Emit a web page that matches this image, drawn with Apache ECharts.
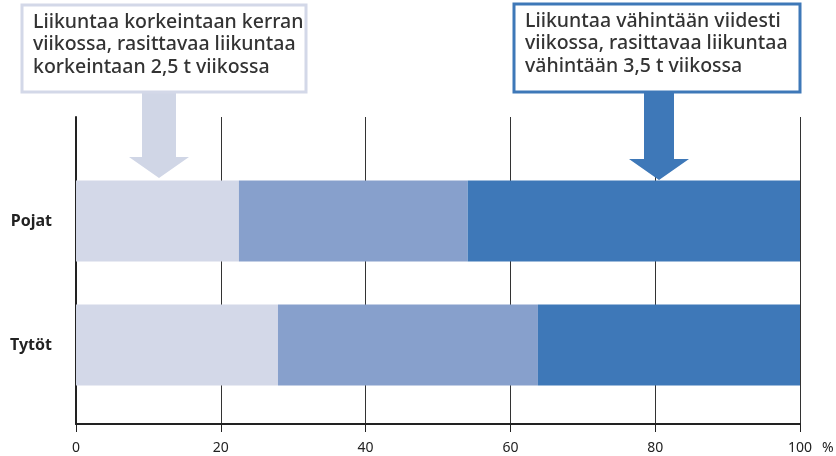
<!DOCTYPE html>
<html><head><meta charset="utf-8">
<script src="https://cdn.jsdelivr.net/npm/echarts@6/dist/echarts.min.js"></script>
<style>html,body{margin:0;padding:0;background:#fff}#c{width:836px;height:456px}</style>
</head><body><div id="c"></div>
<script>
const categories = ['Pojat', 'Tytöt'];
const lowActivity = [22.5, 27.9];
const midActivity = [31.6, 35.9];
const highActivity = [45.9, 36.2];
const xTicks = [0, 20, 40, 60, 80, 100];
const leftBoxLines = ['Liikuntaa korkeintaan kerran', 'viikossa, rasittavaa liikuntaa', 'korkeintaan 2,5 t viikossa'];
const rightBoxLines = ['Liikuntaa vähintään viidesti', 'viikossa, rasittavaa liikuntaa', 'vähintään 3,5 t viikossa'];

const FONT = 'Noto Sans';
const C1 = '#d3d8e8', C2 = '#87a0cc', C3 = '#3e78b8';

const chart = echarts.init(document.getElementById('c'));
const bar = (name, data, color) => ({
  name, type: 'bar', stack: 'all', data, xAxisIndex: 0, yAxisIndex: 0,
  barWidth: 81, itemStyle: { color }, silent: true, z: 3
});
function box(x, y, w, h, borderColor, lines) {
  return [
    { type: 'rect', shape: { x, y, width: w, height: h }, style: { fill: '#fff', stroke: borderColor, lineWidth: 3 }, z: 10 },
    { type: 'text', x: x + 11, y: y + 6, style: { text: lines.join('\n'), font: '500 19.5px "' + FONT + '"', fill: '#333', lineHeight: 22.5 }, z: 11 }
  ];
}
function arrow(cx, top, shaftW, headTop, headW, tip, color) {
  return { type: 'polygon', shape: { points: [
    [cx - shaftW / 2, top], [cx + shaftW / 2, top], [cx + shaftW / 2, headTop], [cx + headW / 2, headTop],
    [cx, tip], [cx - headW / 2, headTop], [cx - shaftW / 2, headTop]] },
    style: { fill: color }, z: 9 };
}
chart.setOption({
  animation: false,
  textStyle: { fontFamily: FONT },
  grid: [
    { left: 76, right: 36, top: 159, height: 248 },
    { left: 76, right: 36, top: 117, bottom: 32 }
  ],
  xAxis: [
    { gridIndex: 0, type: 'value', min: 0, max: 100, show: false },
    { gridIndex: 1, type: 'value', min: 0, max: 100, interval: 20,
      axisLine: { show: true, lineStyle: { color: '#222', width: 2 } },
      axisTick: { show: true, length: 8, lineStyle: { color: '#222', width: 1 } },
      axisLabel: { color: '#222', fontSize: 14, margin: 17, formatter: v => xTicks.includes(v) ? String(v) : '' },
      splitLine: { show: true, lineStyle: { color: '#333', width: 1 } } }
  ],
  yAxis: [
    { gridIndex: 0, type: 'category', data: categories, inverse: true,
      axisLine: { show: false }, axisTick: { show: false },
      axisLabel: { color: '#222', fontSize: 16, fontWeight: 'bold', margin: 24 } },
    { gridIndex: 1, type: 'value', min: 0, max: 1,
      axisLine: { show: true, lineStyle: { color: '#222', width: 2 } },
      axisTick: { show: false }, axisLabel: { show: false }, splitLine: { show: false } }
  ],
  series: [
    bar('low', lowActivity, C1),
    bar('mid', midActivity, C2),
    bar('high', highActivity, C3)
  ],
  graphic: [
    ...box(22, 5, 284, 87, '#d3d8e8', leftBoxLines),
    ...box(514, 4, 286, 88, C3, rightBoxLines),
    arrow(159, 92, 34, 157, 60, 178, '#d0d6e6'),
    arrow(659, 92, 30, 159, 60, 180, C3),
    { type: 'text', x: 822, y: 441, style: { text: '%', font: '14px "' + FONT + '"', fill: '#222' } }
  ]
});
</script></body></html>
